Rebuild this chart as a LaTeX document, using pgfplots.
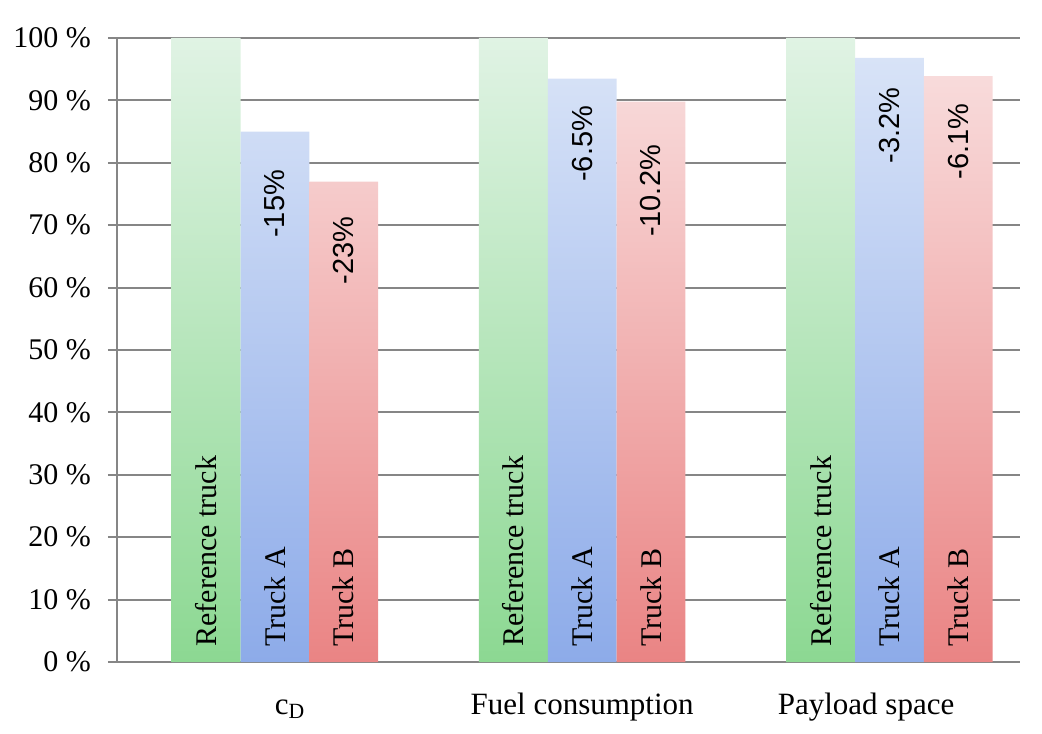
\documentclass[border=0pt]{standalone}
\usepackage{fontspec}
\setmainfont{Liberation Serif}
\newfontfamily\sansf{Liberation Sans}
\usepackage{pgfplots}
\pgfplotsset{compat=1.18}
\definecolor{gridgray}{RGB}{134,134,134}
\definecolor{gTop}{RGB}{224,243,228}
\definecolor{gBot}{RGB}{140,216,146}
\definecolor{bTop}{RGB}{216,227,247}
\definecolor{bBot}{RGB}{141,171,233}
\definecolor{rTop}{RGB}{248,219,219}
\definecolor{rBot}{RGB}{234,132,132}
\begin{document}
\begin{tikzpicture}
\begin{axis}[name=ax, scale only axis, width=451.5pt, height=312pt,
  xmin=-0.514, xmax=2.425, ymin=0, ymax=100,
  axis x line*=bottom, axis y line*=left,
  axis line style={gridgray, line width=1pt},
  ytick={0,10,...,100},
  yticklabel={\pgfmathprintnumber[assume math mode=true]{\tick}~\%},
  yticklabel style={font=\fontsize{15}{18}\selectfont, xshift=-5pt},
  xtick={0.049,1,1.924},
  xticklabels={c\textsubscript{D}, Fuel consumption, Payload space},
  xticklabel style={font=\fontsize{15.5}{18}\selectfont, anchor=base, yshift=-21.5pt},
  x tick style={draw=none},
  y tick style={gridgray, line width=1pt},
  tick align=outside, major tick length=4.5pt,
  ymajorgrids, grid style={gridgray, line width=1pt},
  bar width=0.224,
]
% bars
\addplot[ybar, bar shift=-0.224, draw=none, top color=gTop, bottom color=gBot]
  table {x y
0 100
1 100
2 100
};
\addplot[ybar, bar shift=0, draw=none, top color=bTop, bottom color=bBot,
  nodes near coords={\pgfplotspointmeta\%}, point meta=explicit symbolic,
  visualization depends on={value \thisrow{off}\as\loff},
  every node near coord/.append style={yshift=-\loff pt, rotate=90, anchor=east, inner sep=0pt, text=black, font=\sansf\fontsize{14.5}{17}\selectfont}]
  table[meta=lab] {x y lab off
0 85 -15 19
1 93.5 -6.5 13.5
2 96.8 -3.2 14.5
};
\addplot[ybar, bar shift=0.224, draw=none, top color=rTop, bottom color=rBot,
  nodes near coords={\pgfplotspointmeta\%}, point meta=explicit symbolic,
  visualization depends on={value \thisrow{off}\as\loff},
  every node near coord/.append style={xshift=34.4pt, yshift=-\loff pt, rotate=90, anchor=east, inner sep=0pt, text=black, font=\sansf\fontsize{14.5}{17}\selectfont}]
  table[meta=lab] {x y lab off
0 77 -23 17.5
1 89.8 -10.2 21.5
2 93.9 -6.1 13.5
};
% bar name labels
\addplot[ybar, bar shift=-0.224, draw=none, fill=none, forget plot,
  nodes near coords={Reference truck},
  every node near coord/.append style={xshift=-34.4pt, yshift=7.5pt, rotate=90, anchor=west, inner sep=0pt, text=black, font=\fontsize{15}{18}\selectfont}]
  table {x y
0 0
1 0
2 0
};
\addplot[ybar, bar shift=0, draw=none, fill=none, forget plot,
  nodes near coords={Truck A},
  every node near coord/.append style={yshift=7.5pt, rotate=90, anchor=west, inner sep=0pt, text=black, font=\fontsize{15}{18}\selectfont}]
  table {x y
0 0
1 0
2 0
};
\addplot[ybar, bar shift=0.224, draw=none, fill=none, forget plot,
  nodes near coords={Truck B},
  every node near coord/.append style={xshift=34.4pt, yshift=7.5pt, rotate=90, anchor=west, inner sep=0pt, text=black, font=\fontsize{15}{18}\selectfont}]
  table {x y
0 0
1 0
2 0
};
\end{axis}
\pgfresetboundingbox
\path[use as bounding box] ([shift={(-58.5pt,-35.5pt)}]ax.south west) rectangle ([shift={(11pt,19pt)}]ax.north east);
\end{tikzpicture}
\end{document}
